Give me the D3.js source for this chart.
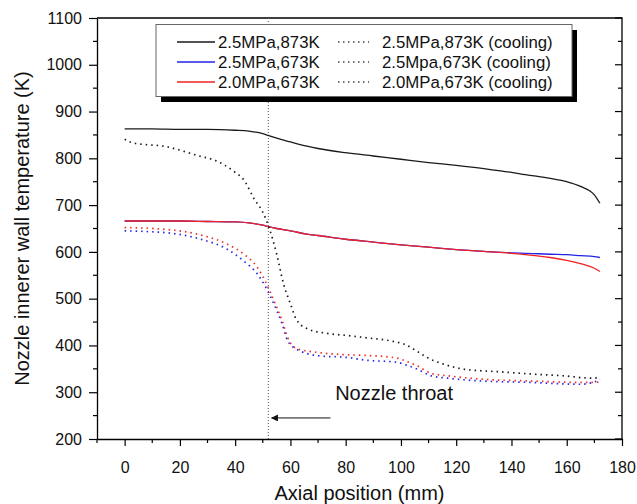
<!DOCTYPE html>
<html>
<head>
<meta charset="utf-8">
<script src="https://cdn.jsdelivr.net/npm/d3@7"></script>
<style>
  body { margin: 0; background: #fff; }
  svg { display: block; font-family: "Liberation Sans", Arial, sans-serif; }
</style>
</head>
<body>
<div id="chart"></div>
<script>
// Wall temperature along the nozzle (solid lines)
var wallX = [0, 10, 20, 30, 40, 45, 50, 52, 55, 60, 66, 70, 80, 90, 100, 110, 120, 130, 136, 140, 145, 150, 154, 160, 165, 170, 172];
var wall873_25 = [863, 863, 862, 862, 860, 858, 853, 849, 843, 835, 826, 821, 812, 805, 798, 791, 785, 778, 773, 770, 765, 761, 757, 750, 740, 722, 704];
var wall673_25 = [666, 666, 666, 665, 664, 662, 657, 654, 650, 645, 638, 635, 627, 621, 615, 610, 605, 601, 599, 598, 597, 596, 595, 594, 592, 590, 588];
var wall673_20 = [666, 666, 666, 665, 664, 662, 657, 654, 650, 645, 638, 635, 627, 621, 615, 610, 605, 601, 599, 597, 594, 591, 588, 582, 575, 565, 558];

// Cooling curves (dotted lines)
var coolX873 = [0, 3, 15, 27, 33, 40, 43, 47, 50, 52.6, 55, 57.5, 60, 62, 66, 73, 81, 86.5, 96, 101, 106, 109.5, 115.5, 123, 135, 147, 159, 169, 172];
var cool873_25 = [841, 833, 825, 805, 795, 770, 755, 712, 685, 646, 596, 532, 489, 457, 436, 426, 421, 417, 410, 403, 387, 374, 360, 349, 344, 339, 335, 330, 331];
var coolX673 = [0, 15, 27, 37, 43, 48, 51.4, 54, 57, 59, 62, 70, 81, 86.5, 98.6, 102, 106, 111, 117, 129, 147, 165, 170, 172];
var cool673_25 = [645, 641, 628, 606, 581, 553, 521, 489, 446, 410, 393, 378, 374, 369, 364, 358, 349, 335, 330, 324, 321, 317, 322, 328];
var cool673_20 = [652, 648, 637, 617, 596, 567, 531, 496, 453, 417, 394, 385, 380, 379, 373, 366, 356, 340, 335, 328, 324, 321, 321, 322];

var xTicks = [0, 20, 40, 60, 80, 100, 120, 140, 160, 180];
var xMinor = [-10, 10, 30, 50, 70, 90, 110, 130, 150, 170];
var yTicks = [200, 300, 400, 500, 600, 700, 800, 900, 1000, 1100];
var yMinor = [250, 350, 450, 550, 650, 750, 850, 950, 1050];

var throatX = 52;

var series = [
    { name: "2.5MPa,873K", xs: wallX, ys: wall873_25, color: "#1a1a1a", dotted: false },
    { name: "2.5MPa,673K", xs: wallX, ys: wall673_25, color: "#2323e6", dotted: false },
    { name: "2.0MPa,673K", xs: wallX, ys: wall673_20, color: "#ee2222", dotted: false },
    { name: "2.5MPa,873K (cooling)", xs: coolX873, ys: cool873_25, color: "#1a1a1a", dotted: true },
    { name: "2.5Mpa,673K (cooling)", xs: coolX673, ys: cool673_25, color: "#2525e8", dotted: true },
    { name: "2.0MPa,673K (cooling)", xs: coolX673, ys: cool673_20, color: "#ee2a2a", dotted: true }
];

var width = 637, height = 504;
var margin = { top: 18, right: 15, bottom: 65, left: 97 };

var x = d3.scaleLinear([-10, 180], [margin.left, width - margin.right]);
var y = d3.scaleLinear([200, 1100], [height - margin.bottom, margin.top]);

const svg = d3.select("#chart")
    .append("svg")
    .attr("width", width)
    .attr("height", height);

var x0 = margin.left, x1 = width - margin.right;
var y0 = height - margin.bottom, y1 = margin.top;

// Frame (top and right)
svg.append("path")
    .attr("d", `M${x0},${y1}H${x1}V${y0}`)
    .attr("fill", "none")
    .attr("stroke", "#000")
    .attr("stroke-width", 1.3);

// Right side inward ticks
svg.append("g").selectAll("line")
    .data(yTicks.concat(yMinor))
    .join("line")
    .attr("x1", x1).attr("x2", d => x1 - (yTicks.includes(d) ? 7 : 4))
    .attr("y1", d => y(d)).attr("y2", d => y(d))
    .attr("stroke", "#000").attr("stroke-width", 1.2);

// Throat marker
svg.append("line")
    .attr("x1", x(throatX)).attr("x2", x(throatX))
    .attr("y1", y1).attr("y2", y0)
    .attr("stroke", "#555")
    .attr("stroke-width", 1)
    .attr("stroke-dasharray", "1,2");

// Curves
var line = d3.line()
    .x(d => x(d[0]))
    .y(d => y(d[1]))
    .curve(d3.curveMonotoneX);

svg.append("g")
    .selectAll("path")
    .data(series)
    .join("path")
    .attr("d", d => line(d.xs.map((v, i) => [v, d.ys[i]])))
    .attr("fill", "none")
    .attr("stroke", d => d.color)
    .attr("stroke-width", d => d.dotted ? 1.7 : 1.3)
    .attr("stroke-dasharray", d => d.dotted ? "1.5,4" : null);

// Axes
var fmt = d3.format("d");
var bottom = svg.append("g")
    .attr("transform", `translate(0,${y0})`)
    .call(d3.axisBottom(x).tickValues(xTicks).tickFormat(fmt).tickSize(7).tickPadding(16).tickSizeOuter(0));
bottom.append("g").selectAll("line")
    .data(xMinor)
    .join("line")
    .attr("x1", d => x(d)).attr("x2", d => x(d))
    .attr("y1", 0).attr("y2", 4)
    .attr("stroke", "#000").attr("stroke-width", 1.2);

var left = svg.append("g")
    .attr("transform", `translate(${x0},0)`)
    .call(d3.axisLeft(y).tickValues(yTicks).tickFormat(fmt).tickSize(8).tickPadding(7).tickSizeOuter(0));
left.append("g").selectAll("line")
    .data(yMinor)
    .join("line")
    .attr("y1", d => y(d)).attr("y2", d => y(d))
    .attr("x1", 0).attr("x2", -4)
    .attr("stroke", "#000").attr("stroke-width", 1.2);

svg.selectAll(".domain").attr("stroke-width", 1.3);
svg.selectAll(".tick line").attr("stroke-width", 1.2);
svg.selectAll(".tick text")
    .attr("font-size", 16)
    .attr("font-family", "Liberation Sans, Arial, sans-serif")
    .attr("fill", "#111");

// Axis titles
svg.append("text")
    .attr("x", (x0 + x1) / 2)
    .attr("y", 500)
    .attr("text-anchor", "middle")
    .attr("font-size", 20)
    .attr("fill", "#111")
    .text("Axial position (mm)");

svg.append("text")
    .attr("transform", `translate(29,${(y0 + y1) / 2}) rotate(-90)`)
    .attr("text-anchor", "middle")
    .attr("font-size", 20)
    .attr("fill", "#111")
    .text("Nozzle innerer wall temperature (K)");

// Annotation: arrow pointing at the throat
svg.append("defs").append("marker")
    .attr("id", "arrow")
    .attr("viewBox", "0 0 10 10")
    .attr("refX", 9).attr("refY", 5)
    .attr("markerWidth", 10).attr("markerHeight", 7)
    .attr("markerUnits", "userSpaceOnUse")
    .attr("orient", "auto")
    .append("path")
    .attr("d", "M0,0L10,5L0,10Z")
    .attr("fill", "#111");

svg.append("line")
    .attr("x1", x(74.5)).attr("x2", x(53.2))
    .attr("y1", y(245)).attr("y2", y(245))
    .attr("stroke", "#111")
    .attr("stroke-width", 1)
    .attr("marker-end", "url(#arrow)");

svg.append("text")
    .attr("x", x(76.2))
    .attr("y", y(283))
    .attr("font-size", 20)
    .attr("fill", "#111")
    .text("Nozzle throat");

// Legend box with drop shadow
var lg = svg.append("g");
lg.append("rect")
    .attr("x", 161).attr("y", 30)
    .attr("width", 416).attr("height", 72)
    .attr("fill", "#000");
lg.append("rect")
    .attr("x", 156).attr("y", 24.5)
    .attr("width", 416).attr("height", 72)
    .attr("fill", "#fff")
    .attr("stroke", "#666")
    .attr("stroke-width", 1);

var rowY = [42, 62, 82];
series.forEach(function (s, i) {
    var col = s.dotted ? 1 : 0;
    var row = i % 3;
    var lx = col ? 338 : 177;
    var lw = col ? 31 : 38;
    lg.append("line")
        .attr("x1", lx).attr("x2", lx + lw)
        .attr("y1", rowY[row]).attr("y2", rowY[row])
        .attr("stroke", s.dotted ? "#444" : s.color)
        .attr("stroke-width", s.dotted ? 1.5 : 1.3)
        .attr("stroke-dasharray", s.dotted ? "1.5,3.5" : null);
    lg.append("text")
        .attr("x", col ? 382 : 218)
        .attr("y", rowY[row] + 6)
        .attr("font-size", 16.8)
        .attr("fill", "#111")
        .text(s.name);
});
</script>
</body>
</html>
